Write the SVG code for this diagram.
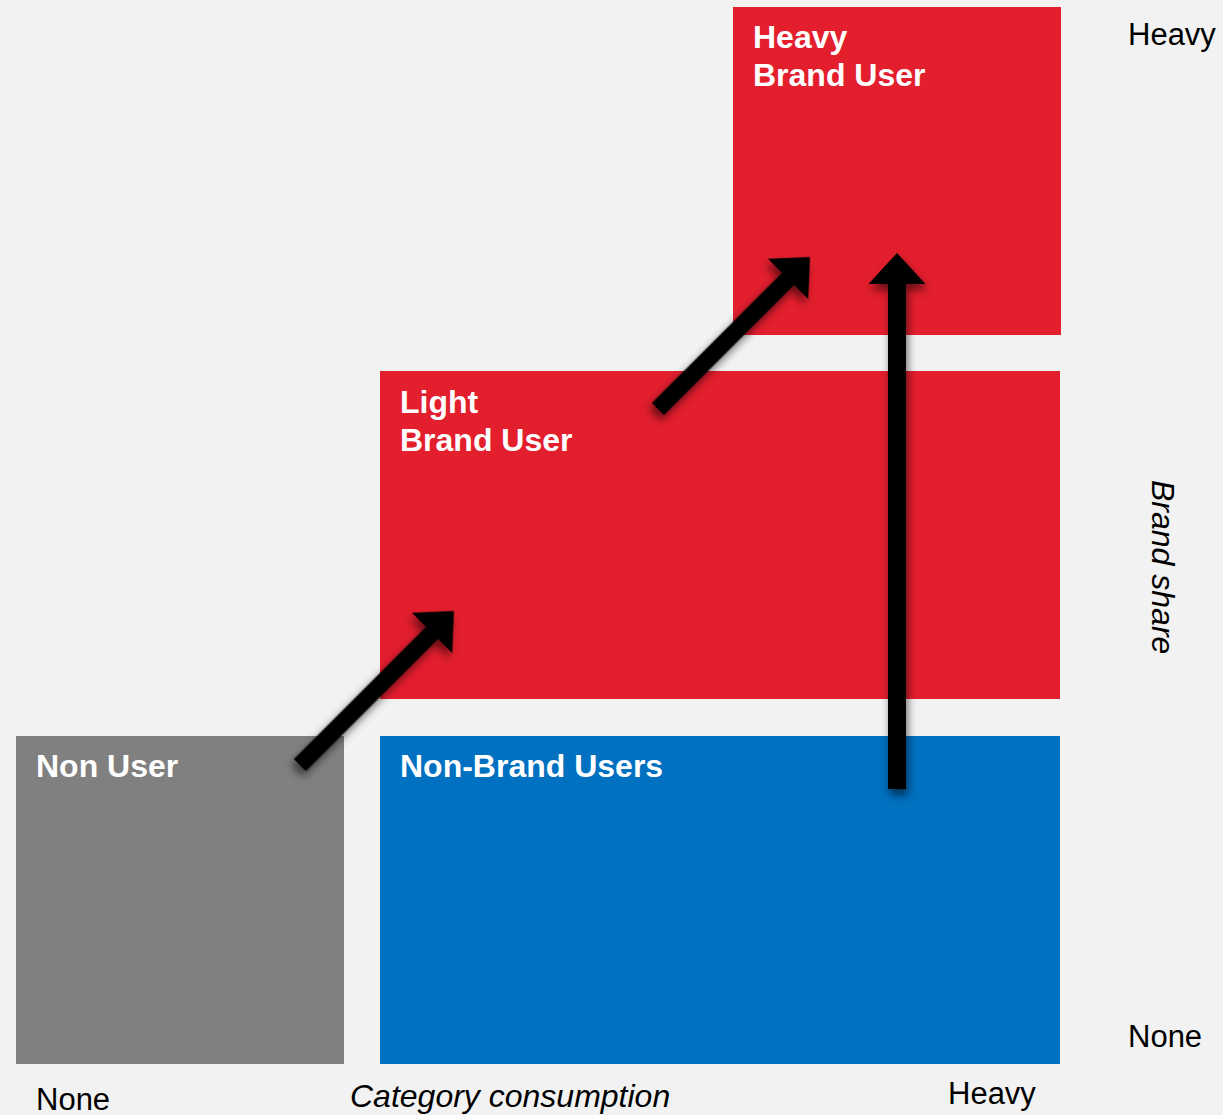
<svg xmlns="http://www.w3.org/2000/svg" width="1223" height="1115" viewBox="0 0 1223 1115">
  <defs>
    <filter id="shadow" x="-30%" y="-30%" width="160%" height="160%">
      <feDropShadow dx="2" dy="6" stdDeviation="4" flood-color="#000" flood-opacity="0.55"/>
    </filter>
  </defs>
  <style>
    .label { font-family: "Liberation Sans", Arial, sans-serif; font-weight: bold; font-size: 32px; fill: #ffffff; }
    .axis { font-family: "Liberation Sans", Arial, sans-serif; font-size: 31px; fill: #000000; }
    .axis-title { font-family: "Liberation Sans", Arial, sans-serif; font-style: italic; font-size: 32px; fill: #000000; }
    .red { fill: #e31e2d; }
    .arrow { fill: #000000; filter: url(#shadow); }
  </style>

  <rect width="1223" height="1115" fill="#f2f2f2"/>

  <!-- segments -->
  <g id="heavy-brand-user">
    <rect class="red" x="733" y="7" width="328" height="328"/>
    <text class="label" x="753" y="48">Heavy</text>
    <text class="label" x="753" y="86">Brand User</text>
  </g>
  <g id="light-brand-user">
    <rect class="red" x="380" y="371" width="680" height="328"/>
    <text class="label" x="400" y="413">Light</text>
    <text class="label" x="400" y="451">Brand User</text>
  </g>
  <g id="non-user">
    <rect x="16" y="736" width="328" height="328" fill="#808080"/>
    <text class="label" x="36" y="777">Non User</text>
  </g>
  <g id="non-brand-users">
    <rect x="380" y="736" width="680" height="328" fill="#0070c0"/>
    <text class="label" x="400" y="777">Non-Brand Users</text>
  </g>

  <!-- flows between segments -->
  <g id="connectors">
    <!-- non user to light brand user -->
    <polygon class="arrow" transform="translate(454,611) rotate(45)" points="0,0 28.5,31 8.5,31 8.5,218 -8.5,218 -8.5,31 -28.5,31"/>
    <!-- light to heavy brand user -->
    <polygon class="arrow" transform="translate(810,257) rotate(45)" points="0,0 28.5,31 8.5,31 8.5,215 -8.5,215 -8.5,31 -28.5,31"/>
    <!-- non-brand users to heavy brand user -->
    <polygon class="arrow" points="897,253 925.5,284 906,284 906,789 888,789 888,284 868.5,284"/>
  </g>

  <!-- axis labels -->
  <g id="axes">
    <text class="axis" x="1128" y="45">Heavy</text>
    <text class="axis" x="1128" y="1047">None</text>
    <text class="axis" x="36" y="1110">None</text>
    <text class="axis" x="948" y="1104">Heavy</text>
    <text class="axis-title" x="350" y="1107">Category consumption</text>
    <text class="axis-title" transform="translate(1152,480) rotate(90)">Brand share</text>
  </g>
</svg>
